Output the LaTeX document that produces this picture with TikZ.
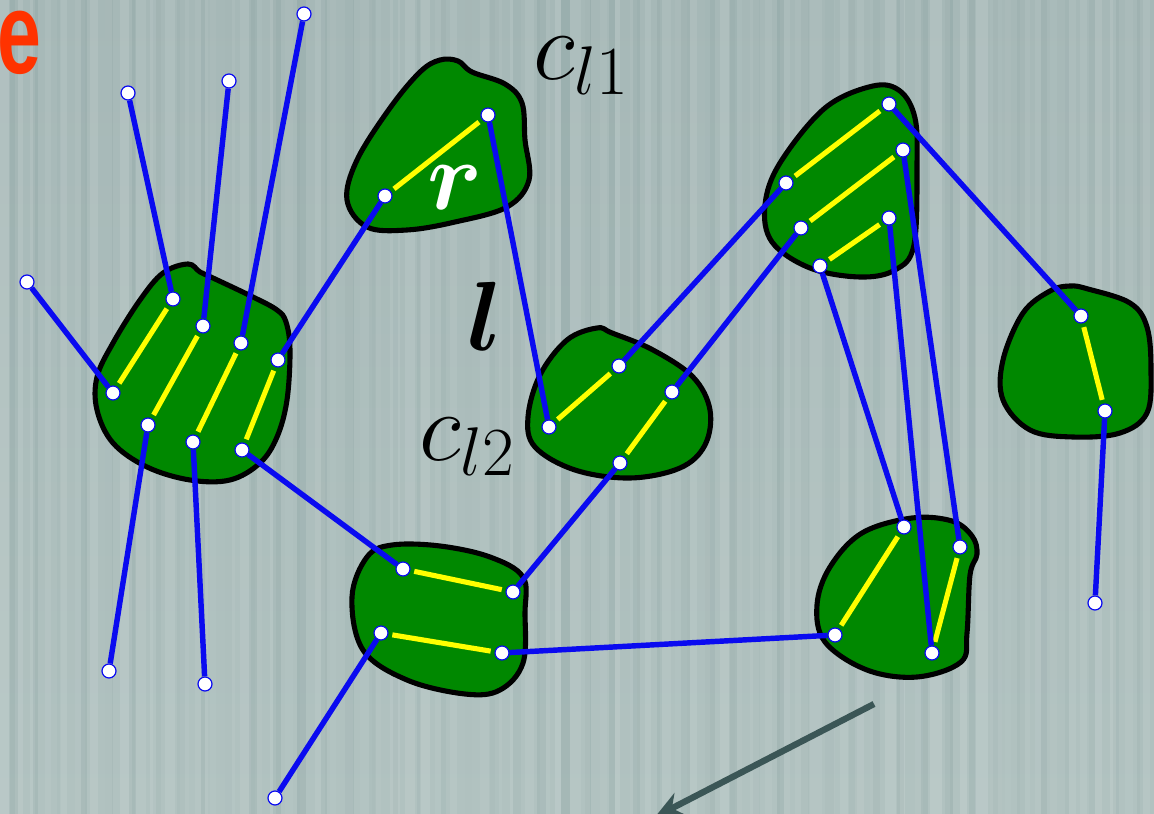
\RequirePackage{fix-cm}
\documentclass[tikz,border=0pt]{standalone}
\usepackage{bm}
\usepackage{fontspec}
\newfontfamily\efont{Liberation Sans}
\usetikzlibrary{arrows.meta}
\definecolor{bgtop}{HTML}{A6B8B7}
\definecolor{bgbot}{HTML}{B1C2C0}
\definecolor{blobgreen}{HTML}{008800}
\definecolor{lineblue}{HTML}{0A0AF0}
\definecolor{ylw}{HTML}{FFFF00}
\definecolor{arrcol}{HTML}{3B5656}
\definecolor{ered}{HTML}{FF3300}
\begin{document}
\begin{tikzpicture}[x=0.02cm,y=-0.02cm,
  blob/.style={draw=black,line width=2.9pt,fill=blobgreen},
  pt/.style={circle,draw=lineblue,line width=0.7pt,fill=white,inner sep=0pt,minimum size=0.28cm},
  link/.style={draw=lineblue,line width=3.1pt},
  pair/.style={draw=ylw,line width=2.9pt,shorten <=2.2pt,shorten >=2.2pt},
  lab/.style={inner sep=0pt,font=\fontsize{56}{60}\selectfont}]
\useasboundingbox (0,0) rectangle (1154,814);
\clip (0,0) rectangle (1154,814);
% background
\shade[top color=bgtop,bottom color=bgbot] (0,0) rectangle (1154,814);
\pgfmathsetseed{11}
\foreach \i in {0,...,76}{
  \pgfmathsetmacro\w{5+8*rnd}
  \pgfmathsetmacro\o{0.03+0.09*rnd}
  \fill[white,opacity=\o] (\i*15,0) rectangle ++(\w,814);
}
\foreach \i in {0,...,48}{
  \pgfmathsetmacro\w{4+6*rnd}
  \pgfmathsetmacro\o{0.02+0.05*rnd}
  \fill[black!60!teal,opacity=\o] (\i*24+9,0) rectangle ++(\w,814);
}
% red letter
\node[anchor=south west,inner sep=0pt,text=ered] (elab) at (-3,75)
  {\scalebox{0.68}[1]{\efont\bfseries\fontsize{66}{66}\selectfont e}};
% blobs
\draw[blob] plot[smooth cycle,tension=0.6] coordinates{(188,264) (200,272) (213,278) (253,297) (277,310) (286,322) (290,350) (287,400) (277,437) (260,463) (230,480) (190,480) (147,467) (113,443) (97,410) (97,377) (113,343) (140,300) (163,273)};
\draw[blob] plot[smooth cycle,tension=0.6] coordinates{(440,60) (458,61) (472,72) (505,84) (522,103) (525,140) (529,180) (507,207) (455,222) (407,230) (367,227) (347,200) (357,160) (390,108) (420,72)};
\draw[blob] plot[smooth cycle,tension=0.6] coordinates{(597,328) (612,333) (653,350) (693,377) (710,410) (705,445) (680,468) (630,478) (575,470) (535,447) (528,417) (540,375) (567,340)};
\draw[blob] plot[smooth cycle,tension=0.6] coordinates{(873,86) (900,91) (915,118) (917,165) (914,245) (895,270) (860,277) (810,268) (772,242) (765,205) (780,163) (825,108)};
\draw[blob] plot[smooth cycle,tension=0.6] coordinates{(1070,286) (1088,289) (1130,303) (1147,327) (1151,370) (1147,413) (1120,433) (1073,437) (1030,430) (1003,400) (1003,360) (1023,313) (1050,291)};
\draw[blob] plot[smooth cycle,tension=0.6] coordinates{(912,518) (952,521) (972,536) (977,554) (970,575) (967,633) (961,662) (917,677) (867,670) (825,642) (817,605) (830,567) (862,533)};
\draw[blob] plot[smooth cycle,tension=0.6] coordinates{(392,545) (440,546) (490,557) (523,577) (525,613) (523,663) (500,690) (465,694) (407,680) (363,650) (352,597) (367,557)};
% labels
\node[lab,text=white] (rlab) at (455,188) {$\bm{r}$};
\node[lab] (cl1) at (581,66) {$c_{l1}$};
\node[lab] (llab) at (485,316) {$\bm{l}$};
\node[lab] (cl2) at (467,447) {$c_{l2}$};
% points
\node[pt] (a1) at (173,299) {};
\node[pt] (a2) at (113,393) {};
\node[pt] (a3) at (203,326) {};
\node[pt] (a4) at (148,425) {};
\node[pt] (a5) at (241,343) {};
\node[pt] (a6) at (193,442) {};
\node[pt] (a7) at (278,360) {};
\node[pt] (a8) at (242,450) {};
\node[pt] (r1) at (385,196) {};
\node[pt] (r2) at (488,115) {};
\node[pt] (m1) at (549,427) {};
\node[pt] (m2) at (619,366) {};
\node[pt] (m3) at (672,392) {};
\node[pt] (m4) at (620,463) {};
\node[pt] (t1) at (786,183) {};
\node[pt] (t2) at (889,104) {};
\node[pt] (t3) at (801,228) {};
\node[pt] (t4) at (903,150) {};
\node[pt] (t5) at (820,266) {};
\node[pt] (t6) at (889,218) {};
\node[pt] (s1) at (1081,316) {};
\node[pt] (s2) at (1105,411) {};
\node[pt] (q1) at (904,527) {};
\node[pt] (q2) at (835,635) {};
\node[pt] (q3) at (960,547) {};
\node[pt] (q4) at (932,653) {};
\node[pt] (b1) at (403,569) {};
\node[pt] (b2) at (513,592) {};
\node[pt] (b3) at (381,633) {};
\node[pt] (b4) at (502,653) {};
\node[pt] (f1) at (128,93) {};
\node[pt] (f2) at (229,81) {};
\node[pt] (f3) at (304,14) {};
\node[pt] (f4) at (27,282) {};
\node[pt] (f5) at (109,671) {};
\node[pt] (f6) at (205,684) {};
\node[pt] (f7) at (275,798) {};
\node[pt] (f8) at (1095,603) {};
% yellow pairs
\foreach \u/\v in {a1/a2,a3/a4,a5/a6,a7/a8,r1/r2,m1/m2,m3/m4,t1/t2,t3/t4,t5/t6,s1/s2,q1/q2,q3/q4,b1/b2,b3/b4}
  \draw[pair] (\u) -- (\v);
% blue links
\foreach \u/\v in {a1/f1,a3/f2,a5/f3,a2/f4,a4/f5,a6/f6,a7/r1,a8/b1,r2/m1,m2/t1,m3/t3,m4/b2,t2/s1,t4/q3,t6/q4,t5/q1,q2/b4,b3/f7,s2/f8}
  \draw[link] (\u) -- (\v);
% arrow
\coordinate (arrS) at (874,704);
\coordinate (arrE) at (655,817);
\draw[arrcol,line width=3.6pt,-{Stealth[length=16pt,width=14pt]}] (arrS) -- (arrE);
\end{tikzpicture}
\end{document}
